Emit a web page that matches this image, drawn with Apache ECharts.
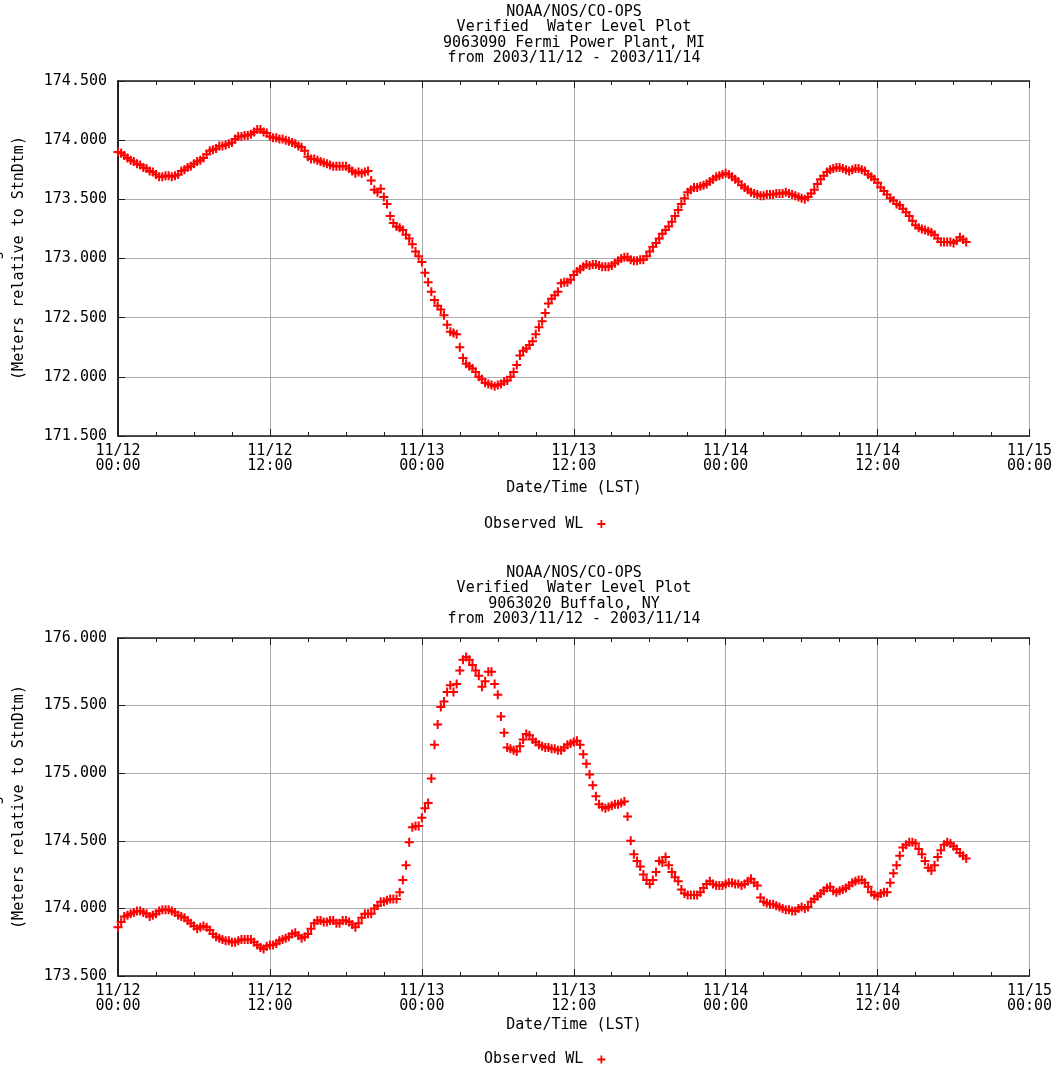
<!DOCTYPE html>
<html>
<head>
<meta charset="utf-8">
<script src="https://cdn.jsdelivr.net/npm/echarts@6/dist/echarts.min.js"></script>
<style>html,body{margin:0;padding:0;background:#fff;}#chart{width:1062px;height:1067px;}</style>
</head>
<body>
<div id="chart"></div>
<script>
// ---- data (hours since 2003/11/12 00:00 LST, one value every 15 minutes) ----
const STEP_HOURS = 0.25;
const xTickLabels = ['11/12\n00:00','11/12\n12:00','11/13\n00:00','11/13\n12:00','11/14\n00:00','11/14\n12:00','11/15\n00:00'];
const fermiTitle = ['NOAA/NOS/CO-OPS','Verified  Water Level Plot','9063090 Fermi Power Plant, MI','from 2003/11/12 - 2003/11/14'];
const buffaloTitle = ['NOAA/NOS/CO-OPS','Verified  Water Level Plot','9063020 Buffalo, NY','from 2003/11/12 - 2003/11/14'];
const seriesName = 'Observed WL';
const xAxisTitle = 'Date/Time (LST)';
const yAxisTitle = '(Meters relative to StnDtm)';
const fermiLevels = [
173.90,173.89,173.87,173.85, 173.83,173.82,173.80,173.79, 173.77,173.76,173.74,173.73, 173.71,173.69,173.69,173.70,
173.70,173.69,173.70,173.71, 173.74,173.75,173.77,173.78, 173.80,173.82,173.83,173.85, 173.88,173.91,173.92,173.93,
173.95,173.95,173.96,173.97, 173.98,174.01,174.03,174.03, 174.04,174.04,174.05,174.07, 174.09,174.09,174.07,174.06,
174.03,174.02,174.02,174.01, 174.01,174.00,173.99,173.98, 173.97,173.95,173.94,173.91, 173.86,173.84,173.84,173.83,
173.82,173.81,173.80,173.79, 173.78,173.78,173.78,173.78, 173.78,173.76,173.74,173.72, 173.73,173.72,173.73,173.74,
173.66,173.58,173.56,173.59, 173.52,173.46,173.36,173.30, 173.27,173.26,173.24,173.20, 173.17,173.12,173.06,173.02,
172.97,172.88,172.80,172.72, 172.65,172.60,172.57,172.52, 172.44,172.38,172.37,172.36, 172.25,172.16,172.11,172.09,
172.07,172.04,172.00,171.98, 171.95,171.94,171.93,171.92, 171.93,171.94,171.96,171.97, 172.00,172.04,172.10,172.18,
172.22,172.24,172.27,172.30, 172.36,172.42,172.47,172.54, 172.62,172.66,172.69,172.72, 172.79,172.80,172.80,172.82,
172.86,172.89,172.91,172.93, 172.95,172.94,172.95,172.95, 172.94,172.93,172.93,172.93, 172.94,172.96,172.98,173.00,
173.01,173.01,172.99,172.98, 172.98,172.99,172.99,173.02, 173.06,173.10,173.13,173.17, 173.21,173.24,173.27,173.31,
173.36,173.41,173.46,173.51, 173.56,173.58,173.60,173.60, 173.61,173.62,173.63,173.65, 173.67,173.69,173.70,173.71,
173.72,173.71,173.69,173.67, 173.65,173.62,173.60,173.58, 173.56,173.55,173.54,173.53, 173.53,173.54,173.54,173.54,
173.55,173.55,173.55,173.56, 173.55,173.54,173.53,173.52, 173.51,173.50,173.52,173.55, 173.58,173.63,173.67,173.70,
173.73,173.75,173.76,173.77, 173.77,173.76,173.75,173.74, 173.75,173.76,173.76,173.75, 173.74,173.71,173.69,173.67,
173.64,173.60,173.57,173.54, 173.51,173.49,173.46,173.45, 173.42,173.39,173.36,173.32, 173.28,173.26,173.25,173.24,
173.23,173.22,173.20,173.17, 173.14,173.14,173.14,173.14, 173.13,173.15,173.18,173.16, 173.14
];
const buffaloLevels = [
173.86,173.90,173.94,173.95, 173.96,173.97,173.98,173.98, 173.97,173.96,173.94,173.95, 173.96,173.98,173.99,173.99,
173.99,173.98,173.97,173.95, 173.94,173.93,173.91,173.89, 173.87,173.85,173.86,173.87, 173.86,173.84,173.81,173.79,
173.78,173.77,173.76,173.76, 173.75,173.75,173.76,173.77, 173.77,173.77,173.77,173.75, 173.73,173.71,173.70,173.72,
173.73,173.73,173.74,173.76, 173.77,173.78,173.79,173.81, 173.82,173.80,173.78,173.79, 173.81,173.85,173.89,173.91,
173.91,173.90,173.90,173.91, 173.91,173.89,173.89,173.91, 173.91,173.90,173.88,173.86, 173.89,173.93,173.96,173.96,
173.96,174.00,174.02,174.05, 174.05,174.06,174.07,174.07, 174.07,174.12,174.21,174.32, 174.49,174.60,174.61,174.61,
174.67,174.74,174.78,174.96, 175.21,175.36,175.49,175.53, 175.60,175.65,175.60,175.66, 175.76,175.84,175.86,175.84,
175.80,175.76,175.72,175.64, 175.68,175.75,175.75,175.66, 175.58,175.42,175.30,175.19, 175.18,175.17,175.16,175.20,
175.25,175.29,175.28,175.25, 175.23,175.21,175.20,175.19, 175.19,175.18,175.18,175.17, 175.17,175.19,175.21,175.22,
175.23,175.24,175.21,175.14, 175.07,174.99,174.91,174.83, 174.77,174.75,174.74,174.75, 174.76,174.77,174.77,174.78,
174.79,174.68,174.50,174.40, 174.35,174.31,174.25,174.21, 174.18,174.21,174.27,174.35, 174.34,174.38,174.32,174.27,
174.23,174.20,174.14,174.11, 174.10,174.10,174.10,174.10, 174.12,174.15,174.18,174.20, 174.18,174.17,174.17,174.17,
174.18,174.19,174.19,174.18, 174.18,174.17,174.18,174.20, 174.22,174.19,174.17,174.08, 174.05,174.04,174.03,174.03,
174.02,174.01,174.00,173.99, 173.99,173.98,173.98,174.00, 174.01,174.00,174.01,174.05, 174.07,174.09,174.11,174.13,
174.15,174.16,174.13,174.12, 174.13,174.14,174.15,174.17, 174.19,174.20,174.21,174.21, 174.19,174.16,174.12,174.10,
174.09,174.11,174.12,174.12, 174.19,174.26,174.32,174.39, 174.45,174.47,174.49,174.49, 174.48,174.44,174.40,174.35,
174.30,174.28,174.32,174.38, 174.43,174.47,174.49,174.48, 174.46,174.44,174.41,174.39, 174.37
];

// ---- chart ----
const FONT = 'DejaVu Sans Mono';
const FS = 15;
const PLUS = 'path://M7,0H11V7H18V11H11V18H7V11H0V7H7Z';
const FRAME = '#1a1a1a';
const GRIDC = '#aaaaaa';
const toPoints = arr => arr.map((v, i) => [i * STEP_HOURS, v]);

const grids = [
  { left: 118, right: 32.5, top: 81, height: 355 },
  { left: 118, right: 32.5, top: 638, height: 338 }
];
const yRanges = [[171.5, 174.5], [173.5, 176.0]];

const xAxes = [], yAxes = [];
grids.forEach((g, gi) => {
  xAxes.push({
    type: 'value', gridIndex: gi, min: 0, max: 72, interval: 12, position: 'bottom',
    axisLine: { show: true, lineStyle: { color: FRAME, width: 1.5 } },
    axisTick: { show: true, inside: true, length: 7, lineStyle: { color: FRAME } },
    minorTick: { show: true, splitNumber: 4, length: 4, lineStyle: { color: FRAME } },
    splitLine: { show: true, lineStyle: { color: GRIDC, width: 1 } },
    axisLabel: {
      show: true, margin: 7.5, color: '#000', fontFamily: FONT, fontSize: FS, lineHeight: 15,
      formatter: v => xTickLabels[Math.round(v / 12)] || ''
    }
  });
  xAxes.push({
    type: 'value', gridIndex: gi, min: 0, max: 72, interval: 12, position: 'top',
    axisLine: { show: true, lineStyle: { color: FRAME, width: 1.5 } },
    axisTick: { show: true, inside: true, length: 7, lineStyle: { color: FRAME } },
    minorTick: { show: true, splitNumber: 4, length: 4, lineStyle: { color: FRAME } },
    splitLine: { show: false }, axisLabel: { show: false }
  });
  yAxes.push({
    type: 'value', gridIndex: gi, min: yRanges[gi][0], max: yRanges[gi][1], interval: 0.5, position: 'left',
    axisLine: { show: true, lineStyle: { color: FRAME, width: 1.5 } },
    axisTick: { show: true, inside: true, length: 7, lineStyle: { color: FRAME } },
    splitLine: { show: true, lineStyle: { color: GRIDC, width: 1 } },
    axisLabel: { show: true, margin: 11, color: '#000', fontFamily: FONT, fontSize: FS, formatter: v => v.toFixed(3) }
  });
  yAxes.push({
    type: 'value', gridIndex: gi, min: yRanges[gi][0], max: yRanges[gi][1], interval: 0.5, position: 'right',
    axisLine: { show: true, lineStyle: { color: FRAME, width: 1.5 } },
    axisTick: { show: false }, splitLine: { show: false }, axisLabel: { show: false }
  });
});

function textEl(text, x, y, opts) {
  return Object.assign({
    type: 'text', x: x, y: y, silent: true,
    style: Object.assign({ text: text, fill: '#000', font: FS + 'px "' + FONT + '"', align: 'center', verticalAlign: 'middle' }, opts && opts.style || {})
  }, opts && opts.el || {});
}

const graphics = [
  textEl(fermiTitle.join('\n'), 574, 4.5, { style: { verticalAlign: 'top', lineHeight: 15.3 } }),
  textEl(buffaloTitle.join('\n'), 574, 565.5, { style: { verticalAlign: 'top', lineHeight: 15.3 } }),
  textEl(xAxisTitle, 574, 488),
  textEl(xAxisTitle, 574, 1025),
  textEl(yAxisTitle, 19, 258, { el: { rotation: Math.PI / 2 } }),
  textEl(yAxisTitle, 19, 807, { el: { rotation: Math.PI / 2 } }),
  textEl('Height', 4, 260, { el: { rotation: Math.PI / 2 }, style: { verticalAlign: 'bottom' } }),
  textEl('Height', 4, 805, { el: { rotation: Math.PI / 2 }, style: { verticalAlign: 'bottom' } })
];

const legendBase = {
  selectedMode: false, align: 'right', left: 479, itemWidth: 8, itemHeight: 8,
  data: [seriesName], formatter: n => n + ' ',
  textStyle: { color: '#000', fontFamily: FONT, fontSize: FS }
};

const chart = echarts.init(document.getElementById('chart'), null, { renderer: 'canvas' });
chart.setOption({
  animation: false,
  backgroundColor: '#ffffff',
  grid: grids,
  xAxis: xAxes,
  yAxis: yAxes,
  legend: [Object.assign({ top: 511.5 }, legendBase), Object.assign({ top: 1047 }, legendBase)],
  graphic: graphics,
  series: [
    { name: seriesName, type: 'scatter', xAxisIndex: 0, yAxisIndex: 0, symbol: PLUS, symbolSize: 9,
      itemStyle: { color: '#ff0000', opacity: 1 }, data: toPoints(fermiLevels) },
    { name: seriesName, type: 'scatter', xAxisIndex: 2, yAxisIndex: 2, symbol: PLUS, symbolSize: 9,
      itemStyle: { color: '#ff0000', opacity: 1 }, data: toPoints(buffaloLevels) }
  ]
});
</script>
</body>
</html>
